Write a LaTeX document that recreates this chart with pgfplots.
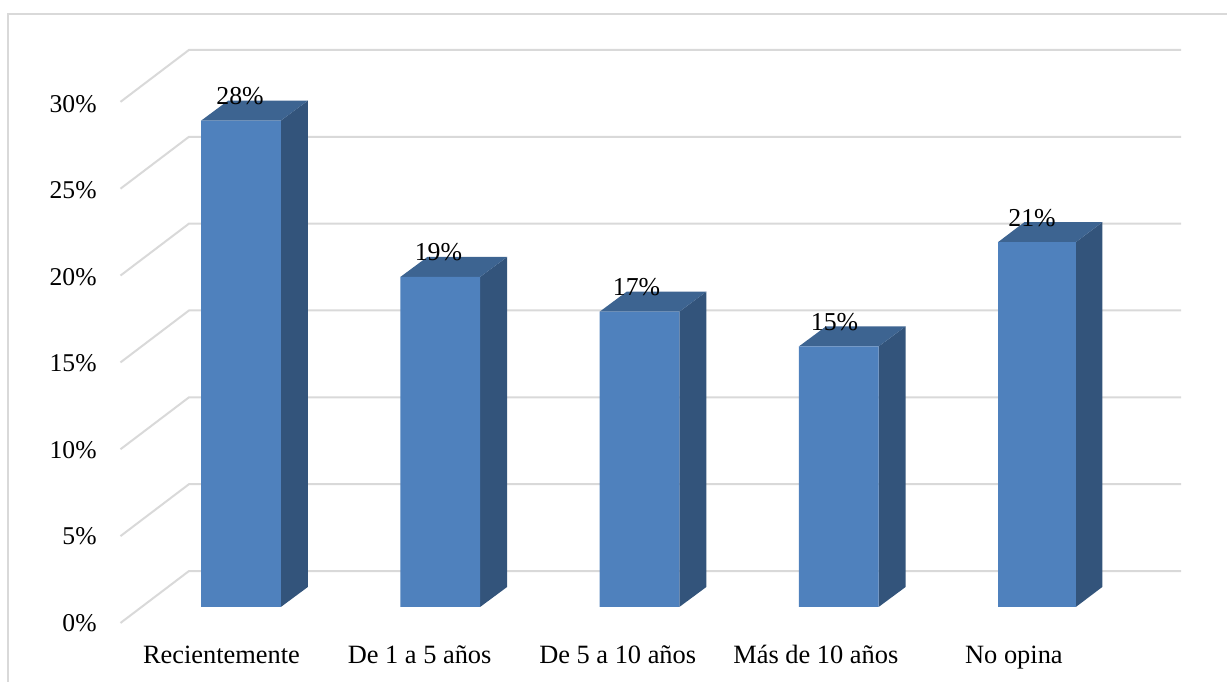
\documentclass[border=0pt]{standalone}
\usepackage{pgfplots}
\pgfplotsset{compat=1.18}
\usepackage{fontspec}
\setmainfont{Liberation Serif}
\definecolor{barfront}{HTML}{4F81BD}
\definecolor{bartop}{HTML}{3D6491}
\definecolor{barside}{HTML}{33547B}
\definecolor{gridgray}{HTML}{D9D9D9}
% 1 px of the reference = 0.5pt here
\pgfplotsset{
  page/.style={
    scale only axis, width=613.5pt, height=341pt,
    at={(0,0)}, anchor=south west,
    /pgf/number format/assume math mode=true,
  },
  face/.style={fill=#1, draw=none, forget plot},
  front/.style={ybar, bar shift=0pt, fill=barfront, draw=none, forget plot},
}
\begin{document}
\begin{tikzpicture}
% tick labels, on the front plane of the chart
\begin{axis}[
  page,
  xmin=-1.1181, xmax=5.0757,
  ymin=-2.9306, ymax=36.5,
  axis line style={draw=none},
  tick style={draw=none},
  xtick={0,1,2,3,4},
  xticklabels={Recientemente,De 1 a 5 años,De 5 a 10 años,Más de 10 años,No opina},
  ytick={0,5,10,15,20,25,30},
  yticklabel={\pgfmathprintnumber{\tick}\%},
  xticklabel style={anchor=base, inner sep=0pt, yshift=9.35pt, font=\fontsize{13.2}{15}\selectfont},
  yticklabel style={anchor=base east, inner sep=0pt, xshift=48.5pt, font=\fontsize{12.8}{15}\selectfont},
]
\end{axis}
% frame, walls and bars
\begin{axis}[
  page,
  hide axis,
  xmin=-1.2095, xmax=4.9486,
  ymin=-4.318, ymax=34.945,
  unbounded coords=jump,
]
% frame
\addplot[gridgray, line width=1pt] coordinates {(-1.1669,-4.318)(-1.1669,34.14)(4.9486,34.14)};
% gridlines: side wall, then back wall
\addplot[gridgray, line width=1pt] coordinates {
  (-0.6048,-0.92)(-0.261,2.07)(4.7177,2.07) (nan,nan)
  (-0.6048,4.08)(-0.261,7.07)(4.7177,7.07) (nan,nan)
  (-0.6048,9.08)(-0.261,12.07)(4.7177,12.07) (nan,nan)
  (-0.6048,14.08)(-0.261,17.07)(4.7177,17.07) (nan,nan)
  (-0.6048,19.08)(-0.261,22.07)(4.7177,22.07) (nan,nan)
  (-0.6048,24.08)(-0.261,27.07)(4.7177,27.07) (nan,nan)
  (-0.6048,29.08)(-0.261,32.07)(4.7177,32.07)
};
% bar sides
\addplot[face=barside] coordinates {(0.2,0)(0.3355,1.151)(0.3355,29.151)(0.2,28)} --cycle;
\addplot[face=barside] coordinates {(1.2,0)(1.3355,1.151)(1.3355,20.151)(1.2,19)} --cycle;
\addplot[face=barside] coordinates {(2.2,0)(2.3355,1.151)(2.3355,18.151)(2.2,17)} --cycle;
\addplot[face=barside] coordinates {(3.2,0)(3.3355,1.151)(3.3355,16.151)(3.2,15)} --cycle;
\addplot[face=barside] coordinates {(4.19,0)(4.3227,1.151)(4.3227,22.151)(4.19,21)} --cycle;
% bar tops
\addplot[face=bartop] coordinates {(-0.2,28)(-0.0645,29.151)(0.3355,29.151)(0.2,28)} --cycle;
\addplot[face=bartop] coordinates {(0.8,19)(0.9355,20.151)(1.3355,20.151)(1.2,19)} --cycle;
\addplot[face=bartop] coordinates {(1.8,17)(1.9355,18.151)(2.3355,18.151)(2.2,17)} --cycle;
\addplot[face=bartop] coordinates {(2.8,15)(2.9355,16.151)(3.3355,16.151)(3.2,15)} --cycle;
\addplot[face=bartop] coordinates {(3.799,21)(3.9312,22.151)(4.3227,22.151)(4.19,21)} --cycle;
% bar fronts
\addplot[front, bar width=0.4] coordinates {(0,28)(1,19)(2,17)(3,15)};
\addplot[front, bar width=0.391] coordinates {(3.995,21)};
% values
\addplot[
  draw=none,
  nodes near coords={\pgfmathprintnumber{\pgfplotspointmeta}\%},
  every node near coord/.append style={anchor=base, inner sep=0pt, yshift=8pt, text=black, font=\fontsize{12.9}{15}\selectfont},
] coordinates {(-0.005,28)(0.991,19)(1.985,17)(2.979,15)(3.97,21)};
\end{axis}
\end{tikzpicture}
\end{document}
